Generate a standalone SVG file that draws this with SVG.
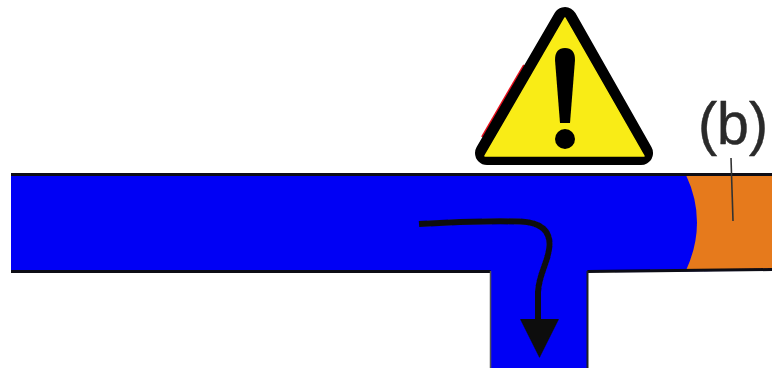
<svg xmlns="http://www.w3.org/2000/svg" width="772" height="370" viewBox="0 0 772 370">
<defs><filter id="soft" x="-5%" y="-5%" width="110%" height="110%"><feGaussianBlur stdDeviation="0.7"/></filter></defs>
<style>
.o{fill:none;stroke:#0a0a14;stroke-width:3}
.e{fill:none;stroke:#555;stroke-width:1.500}
.r{fill:none;stroke:#222;stroke-width:2}
.f{fill:none;stroke:#111;stroke-width:6}
text{font-family:"Liberation Sans",Arial,sans-serif}
</style>
<rect width="772" height="370" fill="#fff"/>
<g filter="url(#soft)">
<g id="pipe">
<path d="M11 175H772V270L686 271.500H587V368H490V271.500H11Z" fill="#0000f5"/>
<path d="M686 175H772V269.500L686 270.500Q708 222 686 175Z" fill="#e67a1a"/>
<path class="o" d="M772 174.500H11M11 271.500H490.500M587.500 271.500L772 269.500"/>
<path class="e" d="M490.500 271V368"/>
<path class="r" d="M587.500 271V368"/>
</g>
<g id="warning">
<path d="M482 137L524 65" fill="none" stroke="#e8101c" stroke-width="2"/>
<path d="M565 19L641 153H487Z" fill="#000" stroke="#000" stroke-width="24" stroke-linejoin="round"/>
<path d="M565 18L644 156H485Z" fill="#f9ec14" stroke="#f9ec14" stroke-width="1.500" stroke-linejoin="round"/>
<path d="M555 60Q555 48 565 48Q575 48 575 60L570 123H560Z" fill="#000"/>
<circle cx="565" cy="139" r="10" fill="#000"/>
</g>
<g id="label-b">
<text x="733" y="144" font-size="60" text-anchor="middle" fill="#2a2a2a" stroke="#2a2a2a" stroke-width=".5" textLength="70" lengthAdjust="spacingAndGlyphs">(b)</text>
<path d="M731 158L733 221" stroke="#333" stroke-width="1.600" fill="none"/>
</g>
<g id="connectors">
<path class="f" d="M419 224C450 222 490 221 520 221.500C542 222 550 232 549.500 245C549 262 539 272 538 292V322"/>
<path d="M520 319H559L539.500 358Z" fill="#111"/>
</g>
</g>
</svg>
